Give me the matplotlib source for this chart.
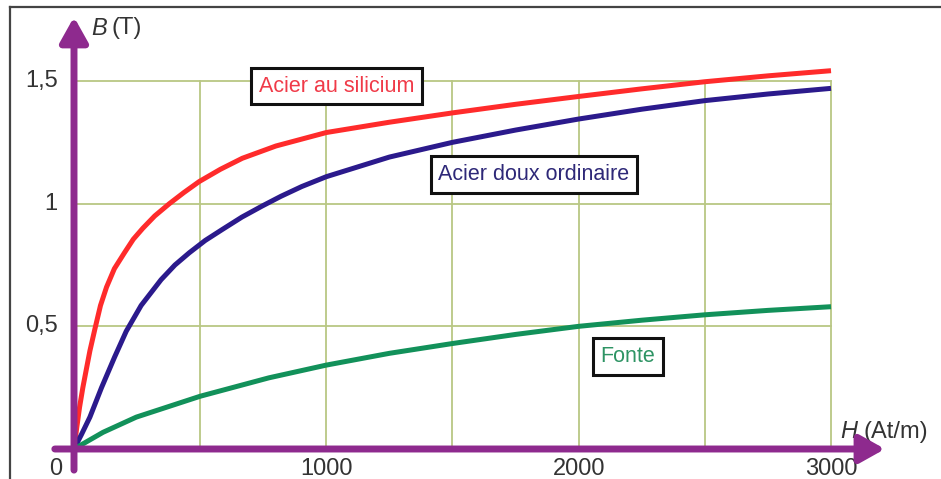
import matplotlib
matplotlib.use("Agg")
import matplotlib.pyplot as plt
from matplotlib.lines import Line2D

# ---- data ----
h_silicium = [0, 10, 22, 35, 48, 63, 83, 105, 129, 160, 200, 235, 273, 320, 378, 435, 496, 580, 667, 800, 1000,
              1250, 1500, 1750, 2000, 2250, 2500, 2750, 3000]
b_silicium = [0, 0.08, 0.17, 0.25, 0.32, 0.40, 0.49, 0.585, 0.66, 0.735, 0.80, 0.855, 0.90, 0.95, 1.0, 1.045, 1.09,
              1.14, 1.185, 1.235, 1.29, 1.332, 1.37, 1.405, 1.437, 1.468, 1.497, 1.521, 1.542]

h_doux = [0, 30, 63, 109, 161, 207, 266, 345, 400, 457, 520, 588, 665, 745, 820, 903, 1000,
          1250, 1500, 1750, 2000, 2250, 2500, 2750, 3000]
b_doux = [0, 0.06, 0.13, 0.25, 0.375, 0.48, 0.585, 0.69, 0.75, 0.80, 0.85, 0.895, 0.945, 0.99, 1.03, 1.07, 1.11,
          1.19, 1.25, 1.30, 1.345, 1.385, 1.42, 1.447, 1.47]

h_fonte = [0, 115, 247, 500, 772, 1000, 1250, 1500, 1750, 2000, 2250, 2500, 2750, 3000]
b_fonte = [0, 0.068, 0.13, 0.215, 0.29, 0.342, 0.39, 0.43, 0.467, 0.50, 0.525, 0.547, 0.565, 0.58]

x_grid = [500, 1000, 1500, 2000, 2500, 3000]
y_grid = [0.5, 1.0, 1.5]
x_ticks = [1000, 2000, 3000]
x_tick_labels = ["1000", "2000", "3000"]
y_ticks = [0.5, 1.0, 1.5]
y_tick_labels = ["0,5", "1", "1,5"]

labels = ["Acier au silicium", "Acier doux ordinaire", "Fonte"]
label_pos = [(1040, 1.478), (1822, 1.119), (2196, 0.377)]

# ---- styles ----
W, H = 941, 479
purple = "#8E2A8E"
red = "#FF2B2B"
navy = "#2B1A8C"
green = "#12915A"
grid_c = "#B9C784"
txt_c = "#333333"

plt.rcParams['font.family'] = ['Liberation Sans', 'DejaVu Sans']

fig = plt.figure(figsize=(W / 100, H / 100), dpi=100)
fig.patch.set_facecolor("white")

x0, x1 = 74, 831   # pixel of H=0 and H=3000
y0, y1 = 449, 81   # pixel of B=0 and B=1.5
ax = fig.add_axes([x0 / W, (H - y0) / H, (x1 - x0) / W, (y0 - y1) / H])
ax.set_xlim(0, 3000)
ax.set_ylim(0, 1.5)
ax.axis("off")

# grid
for gx in x_grid:
    ax.plot([gx, gx], [0, 1.5], color=grid_c, lw=1.3, zorder=1, clip_on=False)
for gy in y_grid:
    ax.plot([0, 3000], [gy, gy], color=grid_c, lw=1.3, zorder=1, clip_on=False)

# curves
for hs, bs, c in [(h_silicium, b_silicium, red), (h_doux, b_doux, navy), (h_fonte, b_fonte, green)]:
    ax.plot(hs, bs, color=c, lw=3.6, zorder=3, clip_on=False,
            solid_capstyle="butt", solid_joinstyle="round")

# axes arrows
ap = dict(arrowstyle="-|>,head_length=0.75,head_width=0.42", lw=5, color=purple,
          mutation_scale=20, shrinkA=0, shrinkB=0)
ax.annotate("", xy=(0, 1.761), xytext=(0, -0.086), arrowprops=ap,
            annotation_clip=False, zorder=5)
ax.annotate("", xy=(3214, 0), xytext=(-76, 0), arrowprops=ap,
            annotation_clip=False, zorder=5)

# tick labels
for t, lab in zip(y_ticks, y_tick_labels):
    ax.text(-64, t, lab, ha="right", va="center", fontsize=17, color=txt_c, clip_on=False)
for t, lab in zip(x_ticks, x_tick_labels):
    ax.text(t, -0.035, lab, ha="center", va="top", fontsize=17, color=txt_c, clip_on=False)
ax.text(-48, -0.035, "0", ha="right", va="top", fontsize=17, color=txt_c, clip_on=False)

# axis names
ax.text(70, 1.715, "B", ha="left", va="center", fontsize=17, color=txt_c, style="italic", clip_on=False)
ax.text(150, 1.715, "(T)", ha="left", va="center", fontsize=17, color=txt_c, clip_on=False)
ax.text(3035, 0.07, "H", ha="left", va="center", fontsize=17, color=txt_c, style="italic", clip_on=False)
ax.text(3130, 0.07, "(At/m)", ha="left", va="center", fontsize=17, color=txt_c, clip_on=False)

# boxed labels
for lab, (lx, ly), c in zip(labels, label_pos, ["#F03A48", "#2E2878", "#2E9464"]):
    ax.text(lx, ly, lab, ha="center", va="center", fontsize=15.5, color=c, zorder=6,
            bbox=dict(boxstyle="square,pad=0.35", fc="white", ec="#111111", lw=2.2))

# image border (top & left)
fig.add_artist(Line2D([10 / W, 10 / W], [0, 1 - 7 / H], transform=fig.transFigure, color="#444444", lw=1.6))
fig.add_artist(Line2D([10 / W, 1], [1 - 7 / H, 1 - 7 / H], transform=fig.transFigure, color="#444444", lw=1.6))

fig.savefig("out.png", dpi=100, facecolor="white")
